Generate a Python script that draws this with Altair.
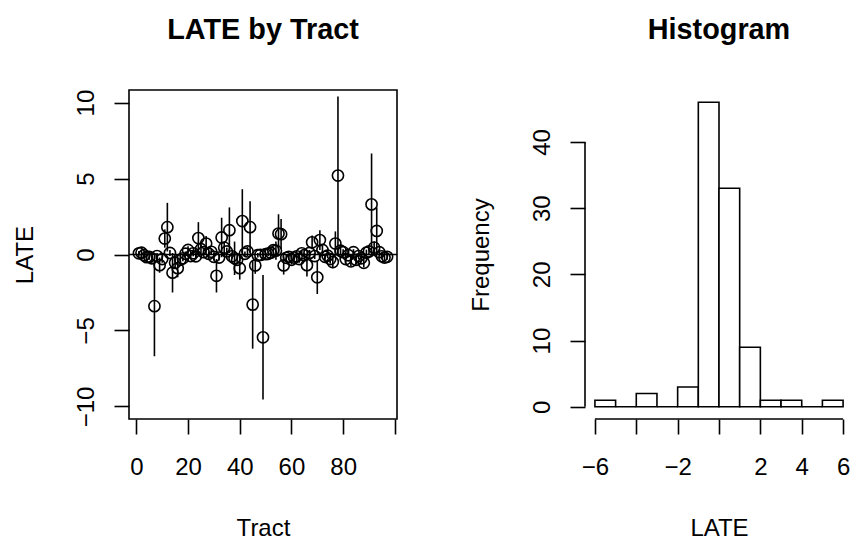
import altair as alt
import pandas as pd

# ---- data: LATE estimate and half-width of its interval, by tract ----
tract = list(range(1, 98))
late = [0.08, 0.12, -0.05, -0.18, -0.15, -0.25, -3.4, -0.1, -0.7, -0.3,
        1.05, 1.8, 0.1, -1.2, -0.55, -0.9, -0.35, -0.25, 0.05, 0.3,
        -0.1, 0.08, -0.12, 1.08, 0.35, 0.15, 0.72, 0.05, 0.18, -0.15,
        -1.4, -0.2, 1.12, 0.45, 0.2, 1.6, -0.12, -0.25, -0.35, -0.9,
        2.2, 0.05, 0.2, 1.8, -3.3, -0.72, -0.05, -0.03, -5.45, 0.02,
        0.05, 0.12, 0.28, 0.25, 1.38, 1.34, -0.72, -0.22, -0.15, -0.35,
        -0.2, -0.12, -0.3, 0.08, -0.05, -0.7, 0.1, 0.8, -0.1, -1.5,
        0.95, 0.3, -0.15, -0.08, -0.3, -0.5, 0.72, 5.2, 0.25, 0.15,
        -0.3, -0.05, -0.45, 0.15, -0.35, -0.1, -0.25, -0.55, 0.12, 0.2,
        3.3, 0.45, 1.55, 0.15, -0.12, -0.2, -0.15]
half = [0.15, 0.2, 0.15, 0.2, 0.2, 0.3, 3.3, 0.2, 0.5, 0.25,
        0.6, 1.6, 0.2, 1.3, 0.4, 0.6, 0.3, 0.2, 0.15, 0.25,
        0.15, 0.2, 0.2, 1.05, 0.3, 0.2, 0.5, 0.15, 0.2, 0.25,
        1.1, 0.2, 1.3, 0.4, 0.25, 1.5, 0.2, 1.1, 0.3, 0.75,
        2.1, 0.15, 0.3, 1.7, 2.9, 0.55, 0.15, 0.1, 4.1, 0.1,
        0.15, 0.2, 0.25, 0.6, 1.27, 1.0, 0.6, 0.2, 0.2, 0.3,
        0.2, 0.2, 0.25, 0.15, 0.15, 0.75, 0.2, 0.45, 0.2, 1.1,
        0.65, 0.3, 0.2, 0.15, 0.3, 0.4, 0.8, 5.2, 0.25, 0.2,
        0.3, 0.15, 0.3, 0.2, 0.3, 0.2, 0.25, 0.3, 0.2, 0.25,
        3.35, 0.4, 1.55, 0.2, 0.2, 0.2, 0.2]

# ---- histogram of LATE ----
bin_left = [-6, -5, -4, -3, -2, -1, 0, 1, 2, 3, 4, 5]
bin_right = [-5, -4, -3, -2, -1, 0, 1, 2, 3, 4, 5, 6]
counts = [1, 0, 2, 0, 3, 46, 33, 9, 1, 1, 0, 1]

pts = pd.DataFrame({"tract": tract, "late": late, "half": half})
pts["lo"] = pts["late"] - pts["half"]
pts["hi"] = pts["late"] + pts["half"]
hist = pd.DataFrame({"left": bin_left, "right": bin_right, "count": counts})

FONT = "Liberation Sans"
LW = 1.6

# R-style padded plot regions (4% extension of data range)
xA = alt.Scale(domain=[-2.84, 100.84], range=[129, 397], nice=False, zero=False)
yA = alt.Scale(domain=[-10.83, 10.83], range=[419, 90], nice=False, zero=False)
xB = alt.Scale(domain=[-6.48, 6.48], range=[585, 853], nice=False, zero=False)
yB = alt.Scale(domain=[-1.84, 47.84], range=[419, 90], nice=False, zero=False)

common = dict(domain=False, grid=False, tickSize=15, tickWidth=LW, tickColor="black",
              labelFont=FONT, labelFontSize=24, labelColor="black", labelPadding=21,
              labelFlush=False, labelOverlap=False, labelBound=False,
              titleFont=FONT, titleFontSize=24, titleFontWeight="normal",
              titleColor="black", titleAlign="center", titleBaseline="alphabetic")

axXA = alt.Axis(orient="bottom", offset=-124, values=[0, 20, 40, 60, 80, 100],
                labelExpr="datum.value == 100 ? '' : datum.label",
                labelBaseline="top", title="Tract", titleX=263, titleY=116, **common)
axYA = alt.Axis(orient="left", offset=-129, values=[-10, -5, 0, 5, 10],
                labelAngle=270, labelAlign="center", labelBaseline="alphabetic",
                title="LATE", titleAngle=270, titleX=-96.5, titleY=254.5, **common)
axXB = alt.Axis(orient="bottom", offset=-124, values=[-6, -4, -2, 0, 2, 4, 6],
                labelExpr="(datum.value == -4 || datum.value == 0) ? '' : datum.label",
                labelBaseline="top", title="LATE", titleX=719, titleY=116, **common)
axYB = alt.Axis(orient="left", offset=-585, values=[0, 10, 20, 30, 40],
                labelAngle=270, labelAlign="center", labelBaseline="alphabetic",
                title="Frequency", titleAngle=270, titleX=-96.5, titleY=254.5, **common)

# ---- left panel ----
box = alt.Chart(pd.DataFrame({"a": [0]})).mark_rect(
    fillOpacity=0, stroke="black", strokeWidth=LW).encode(
    x=alt.XDatum(-2.84, scale=xA, axis=axXA, type="quantitative"),
    x2=alt.X2Datum(100.84),
    y=alt.YDatum(-10.83, scale=yA, axis=axYA, type="quantitative"),
    y2=alt.Y2Datum(10.83),
)
zero = alt.Chart(pd.DataFrame({"a": [0]})).mark_rule(color="black", strokeWidth=LW).encode(
    x=alt.XDatum(-2.84, scale=xA, axis=axXA, type="quantitative"),
    x2=alt.X2Datum(100.84),
    y=alt.YDatum(0, scale=yA, axis=axYA, type="quantitative"),
)
bars_err = alt.Chart(pts).mark_rule(color="black", strokeWidth=LW).encode(
    x=alt.X("tract:Q", scale=xA, axis=axXA),
    y=alt.Y("lo:Q", scale=yA, axis=axYA),
    y2="hi:Q",
)
circles = alt.Chart(pts).mark_point(shape="circle", filled=False, color="black",
                                    size=125, strokeWidth=LW, opacity=1).encode(
    x=alt.X("tract:Q", scale=xA, axis=axXA),
    y=alt.Y("late:Q", scale=yA, axis=axYA),
)
titleA = alt.Chart(pd.DataFrame({"t": ["LATE by Tract"]})).mark_text(
    font=FONT, fontSize=28.8, fontWeight="bold", color="black",
    align="center", baseline="alphabetic").encode(
    x=alt.value(263), y=alt.value(38.5), text="t:N")

left = alt.layer(box, zero, bars_err, circles, titleA)

# ---- right panel ----
hbars = alt.Chart(hist).mark_rect(fill="white", stroke="black", strokeWidth=LW).encode(
    x=alt.X("left:Q", scale=xB, axis=axXB),
    x2="right:Q",
    y=alt.Y("count:Q", scale=yB, axis=axYB),
    y2=alt.Y2Datum(0),
)
xline = alt.Chart(pd.DataFrame({"a": [0]})).mark_rule(color="black", strokeWidth=LW).encode(
    x=alt.XDatum(-6, scale=xB, axis=axXB, type="quantitative"),
    x2=alt.X2Datum(6),
    y=alt.YDatum(-1.84, scale=yB, axis=axYB, type="quantitative"),
)
yline = alt.Chart(pd.DataFrame({"a": [0]})).mark_rule(color="black", strokeWidth=LW).encode(
    x=alt.XDatum(-6.48, scale=xB, axis=axXB, type="quantitative"),
    y=alt.YDatum(0, scale=yB, axis=axYB, type="quantitative"),
    y2=alt.Y2Datum(40),
)
titleB = alt.Chart(pd.DataFrame({"t": ["Histogram"]})).mark_text(
    font=FONT, fontSize=28.8, fontWeight="bold", color="black",
    align="center", baseline="alphabetic").encode(
    x=alt.value(719), y=alt.value(38.5), text="t:N")

right = alt.layer(hbars, xline, yline, titleB)

chart = alt.layer(left, right).resolve_scale(
    x="independent", y="independent"
).resolve_axis(
    x="independent", y="independent"
).properties(
    width=854, height=543,
    autosize=alt.AutoSizeParams(type="none"),
    padding=0,
    background="white",
).configure_view(stroke=None)

chart.save("out.html", embed_options={"renderer": "svg", "actions": False})
